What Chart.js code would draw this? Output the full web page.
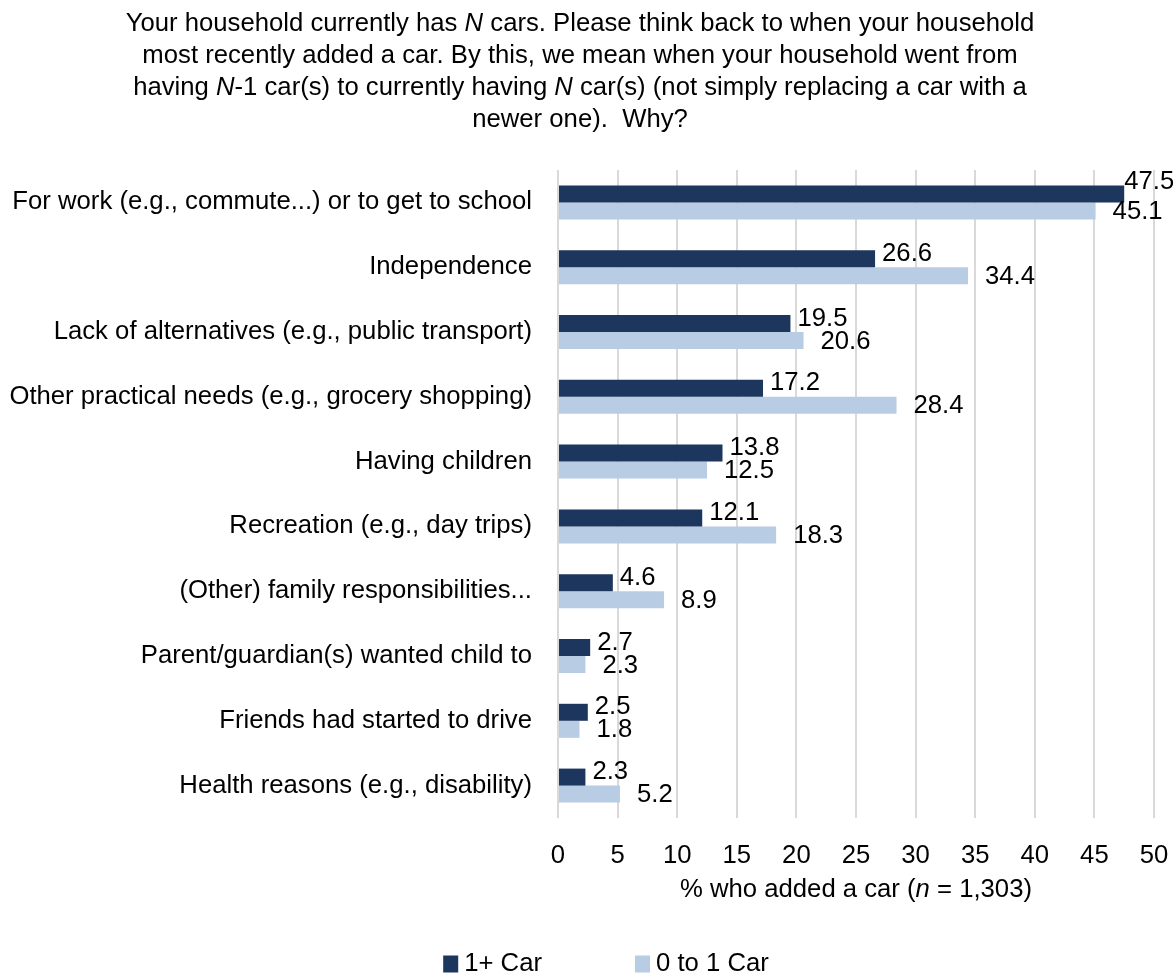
<!DOCTYPE html>
<html>
<head>
<meta charset="utf-8">
<script src="https://cdn.jsdelivr.net/npm/chart.js"></script>
<style>
  html, body { margin: 0; padding: 0; background: #fff; overflow: hidden; }
  #wrap { width: 1173px; height: 973px; }
</style>
</head>
<body>
<div id="wrap"><canvas id="reasons-chart" width="1173" height="973"></canvas></div>
<script>
// Reasons the household added a car
var categories = [
    'For work (e.g., commute...) or to get to school',
    'Independence',
    'Lack of alternatives (e.g., public transport)',
    'Other practical needs (e.g., grocery shopping)',
    'Having children',
    'Recreation (e.g., day trips)',
    '(Other) family responsibilities...',
    'Parent/guardian(s) wanted child to',
    'Friends had started to drive',
    'Health reasons (e.g., disability)'
];
var onePlusCar = [47.5, 26.6, 19.5, 17.2, 13.8, 12.1, 4.6, 2.7, 2.5, 2.3];
var zeroToOneCar = [45.1, 34.4, 20.6, 28.4, 12.5, 18.3, 8.9, 2.3, 1.8, 5.2];
var seriesNames = ['1+ Car', '0 to 1 Car'];
var xTicks = [0, 5, 10, 15, 20, 25, 30, 35, 40, 45, 50];

// title and axis title, split in runs so N / n can be italic
var titleLines = [
    [['Your household currently has ', 0], ['N', 1], [' cars. Please think back to when your household', 0]],
    [['most recently added a car. By this, we mean when your household went from', 0]],
    [['having ', 0], ['N', 1], ['-1 car(s) to currently having ', 0], ['N', 1], [' car(s) (not simply replacing a car with a', 0]],
    [['newer one).  Why?', 0]]
];
var axisTitle = [['% who added a car (', 0], ['n', 1], [' = 1,303)', 0]];

var FONT = '"Liberation Sans", Arial, sans-serif';
var SIZE = 25.7;
var DARK = '#1c365d';
var LIGHT = '#b8cce4';

function fontFor(italic) {
    return (italic ? 'italic ' : '') + SIZE + 'px ' + FONT;
}

// draws a line made of several runs, centered on cx
function drawRuns(ctx, runs, cx, cy) {
    var widths = runs.map(function (r) {
        ctx.font = fontFor(r[1]);
        return ctx.measureText(r[0]).width;
    });
    var total = widths.reduce(function (a, b) { return a + b; }, 0);
    var x = cx - total / 2;
    ctx.textAlign = 'left';
    ctx.textBaseline = 'middle';
    ctx.fillStyle = '#000';
    runs.forEach(function (r, i) {
        ctx.font = fontFor(r[1]);
        ctx.fillText(r[0], x, cy);
        x += widths[i];
    });
}

var extras = {
    id: 'extras',
    afterDatasetsDraw: function (chart) {
        // value labels at the end of each bar
        var ctx = chart.ctx;
        ctx.save();
        ctx.font = fontFor(false);
        ctx.fillStyle = '#000';
        ctx.textAlign = 'left';
        ctx.textBaseline = 'middle';
        chart.data.datasets.forEach(function (ds, di) {
            var dx = di === 0 ? 7 : 17;
            var dy = di === 0 ? -5 : 1;
            chart.getDatasetMeta(di).data.forEach(function (bar, i) {
                var text = ds.data[i].toFixed(1);
                var w = ctx.measureText(text).width;
                var x = bar.x + dx;
                var y = bar.y + dy;
                // keep labels inside the canvas, lifted above the bar
                if (x + w > chart.width - 2) {
                    x = bar.x;
                    y = bar.y - 12;
                }
                ctx.fillText(text, x, y);
            });
        });
        ctx.restore();
    },
    afterDraw: function (chart) {
        var ctx = chart.ctx;
        var area = chart.chartArea;
        ctx.save();
        titleLines.forEach(function (line, i) {
            drawRuns(ctx, line, 580, 24 + i * 32);
        });
        drawRuns(ctx, axisTitle, (area.left + area.right) / 2, 890);

        // legend
        ctx.font = fontFor(false);
        var gap = 93, boxW = 15, boxH = 17, textGap = 6;
        var items = chart.data.datasets.map(function (ds) {
            return { label: ds.label, color: ds.backgroundColor, w: boxW + textGap + ctx.measureText(ds.label).width };
        });
        var total = items.reduce(function (a, it) { return a + it.w; }, 0) + gap * (items.length - 1);
        var x = 606 - total / 2;
        var cy = 964;
        items.forEach(function (it) {
            ctx.fillStyle = it.color;
            ctx.fillRect(x, cy - boxH / 2, boxW, boxH);
            ctx.fillStyle = '#000';
            ctx.textAlign = 'left';
            ctx.textBaseline = 'middle';
            ctx.fillText(it.label, x + boxW + textGap, cy);
            x += it.w + gap;
        });
        ctx.restore();
    }
};

var ctx = document.getElementById('reasons-chart').getContext('2d');
new Chart(ctx, {
    type: 'bar',
    data: {
        labels: categories,
        datasets: [{
            label: seriesNames[0],
            data: onePlusCar,
            backgroundColor: DARK
        }, {
            label: seriesNames[1],
            data: zeroToOneCar,
            backgroundColor: LIGHT
        }]
    },
    options: {
        indexAxis: 'y',
        responsive: false,
        animation: false,
        events: [],
        layout: { padding: { top: 170, right: 19, bottom: 0, left: 0 } },
        categoryPercentage: 0.525,
        barPercentage: 1,
        plugins: {
            legend: { display: false },
            tooltip: { enabled: false }
        },
        scales: {
            x: {
                min: 0,
                max: 50,
                afterBuildTicks: function (s) {
                    s.ticks = xTicks.map(function (v) { return { value: v }; });
                },
                afterFit: function (s) {
                    s.height = 155;
                    s.paddingLeft = 0;
                    s.paddingRight = 0;
                },
                grid: { color: '#d9d9d9', lineWidth: 2, drawTicks: false },
                border: { display: false },
                ticks: {
                    padding: 22,
                    color: '#000',
                    font: { family: FONT, size: SIZE }
                }
            },
            y: {
                afterFit: function (s) { s.width = 558; },
                grid: { display: false, drawTicks: false },
                border: { display: false },
                ticks: {
                    padding: 26,
                    color: '#000',
                    font: { family: FONT, size: SIZE }
                }
            }
        }
    },
    plugins: [extras]
});
</script>
</body>
</html>
